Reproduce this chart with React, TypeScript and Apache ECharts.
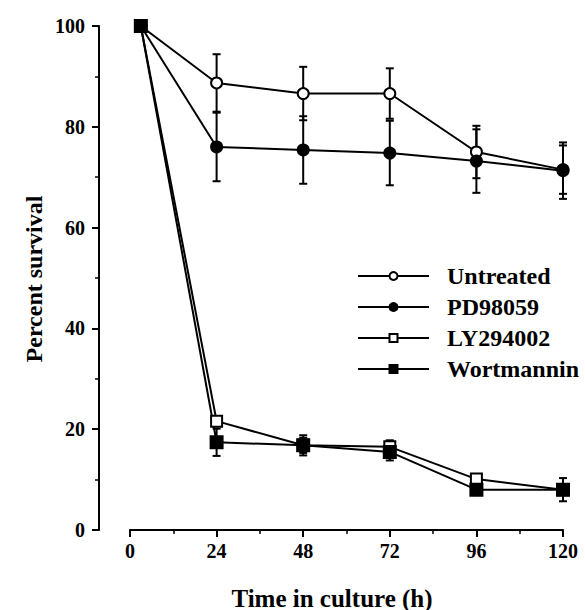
import React, { useEffect, useRef } from "react";
import * as echarts from "echarts";

const hours = [3, 24, 48, 72, 96, 120];
const seriesNames = ["Untreated", "PD98059", "LY294002", "Wortmannin"];
const untreated = [100, 88.7, 86.6, 86.6, 75.0, 71.5];
const untreatedErr = [0, 5.7, 5.3, 5.0, 5.2, 4.8];
const pd98059 = [100, 76.0, 75.4, 74.8, 73.2, 71.3];
const pd98059Err = [0, 6.8, 6.7, 6.4, 6.3, 5.6];
const ly294002 = [100, 21.6, 16.8, 16.5, 10.1, 8.0];
const ly294002Err = [0, 1.0, 1.5, 1.3, 0.8, 1.0];
const wortmannin = [100, 17.4, 16.8, 15.5, 8.0, 8.0];
const wortmanninErr = [0, 2.7, 2.0, 1.7, 1.0, 2.3];
const xTicks = [0, 24, 48, 72, 96, 120];
const yTicks = [0, 20, 40, 60, 80, 100];

const FONT = "Liberation Serif";

export default function App() {
  const ref = useRef<HTMLDivElement>(null);
  useEffect(() => {
    if (!ref.current) return;
    const chart = echarts.init(ref.current, undefined, { renderer: "svg" });

    const values = [untreated, pd98059, ly294002, wortmannin];
    const errs = [untreatedErr, pd98059Err, ly294002Err, wortmanninErr];
    const symbols = ["emptyCircle", "circle", "emptyRect", "rect"];
    const sizes = [11, 11, 11, 12];

    const lineSeries = seriesNames.map((name, i) => ({
      name,
      type: "line",
      data: hours.map((h, j) => [h, values[i][j]]),
      symbol: symbols[i],
      symbolSize: sizes[i],
      showAllSymbol: true,
      lineStyle: { color: "#000", width: 2 },
      itemStyle: { color: "#000", borderColor: "#000", borderWidth: 2 },
      z: 3,
    }));

    const errSeries = seriesNames.map((name, i) => ({
      name: name + " error",
      type: "custom",
      data: hours
        .map((h, j) => [h, values[i][j] - errs[i][j], values[i][j] + errs[i][j]])
        .filter((_, j) => errs[i][j] > 0),
      z: 2,
      renderItem: (params: any, api: any) => {
        const x = api.value(0);
        const lo = api.coord([x, api.value(1)]);
        const hi = api.coord([x, api.value(2)]);
        const cap = 4;
        const st = { stroke: "#000", lineWidth: 2 };
        return {
          type: "group",
          children: [
            { type: "line", shape: { x1: lo[0], y1: lo[1], x2: hi[0], y2: hi[1] }, style: st },
            { type: "line", shape: { x1: lo[0] - cap, y1: lo[1], x2: lo[0] + cap, y2: lo[1] }, style: st },
            { type: "line", shape: { x1: hi[0] - cap, y1: hi[1], x2: hi[0] + cap, y2: hi[1] }, style: st },
          ],
        };
      },
    }));

    const labelStyle = {
      color: "#000",
      fontFamily: FONT,
      fontWeight: "bold",
      fontSize: 20,
    };

    chart.setOption({
      animation: false,
      backgroundColor: "#fff",
      grid: { left: 130, right: 22, top: 26, bottom: 80, containLabel: false },
      xAxis: {
        type: "value",
        min: xTicks[0],
        max: xTicks[xTicks.length - 1],
        interval: 24,
        axisLine: { onZero: false, lineStyle: { color: "#000", width: 2 } },
        axisTick: { length: 7, lineStyle: { color: "#000", width: 2 } },
        minorTick: { show: true, splitNumber: 2, length: 4, lineStyle: { color: "#000", width: 1.5 } },
        splitLine: { show: false },
        axisLabel: { ...labelStyle, margin: 11 },
      },
      yAxis: {
        type: "value",
        min: yTicks[0],
        max: yTicks[yTicks.length - 1],
        interval: 20,
        offset: 31,
        axisLine: { show: true, onZero: false, lineStyle: { color: "#000", width: 2 } },
        axisTick: { show: true, length: 7, lineStyle: { color: "#000", width: 2 } },
        minorTick: { show: true, splitNumber: 2, length: 4, lineStyle: { color: "#000", width: 1.5 } },
        splitLine: { show: false },
        axisLabel: { ...labelStyle, margin: 14 },
      },
      legend: {
        data: seriesNames,
        orient: "vertical",
        left: 352,
        top: 259,
        itemWidth: 71,
        itemHeight: 10,
        itemGap: 7,
        selectedMode: false,
        textStyle: {
          color: "#000",
          fontFamily: FONT,
          fontWeight: "bold",
          fontSize: 24,
          padding: [0, 0, 0, 13],
        },
      },
      graphic: [
        {
          type: "text",
          x: 34,
          y: 279,
          rotation: Math.PI / 2,
          style: {
            text: "Percent survival",
            fill: "#000",
            fontFamily: FONT,
            fontWeight: "bold",
            fontSize: 24,
            align: "center",
            verticalAlign: "middle",
          },
        },
        {
          type: "text",
          x: 332,
          y: 598,
          style: {
            text: "Time in culture (h)",
            fill: "#000",
            fontFamily: FONT,
            fontWeight: "bold",
            fontSize: 25,
            align: "center",
            verticalAlign: "middle",
          },
        },
      ],
      series: [...errSeries, ...lineSeries],
    });

    return () => chart.dispose();
  }, []);

  return <div ref={ref} style={{ width: 585, height: 610, position: "absolute", left: 0, top: 0 }} />;
}
